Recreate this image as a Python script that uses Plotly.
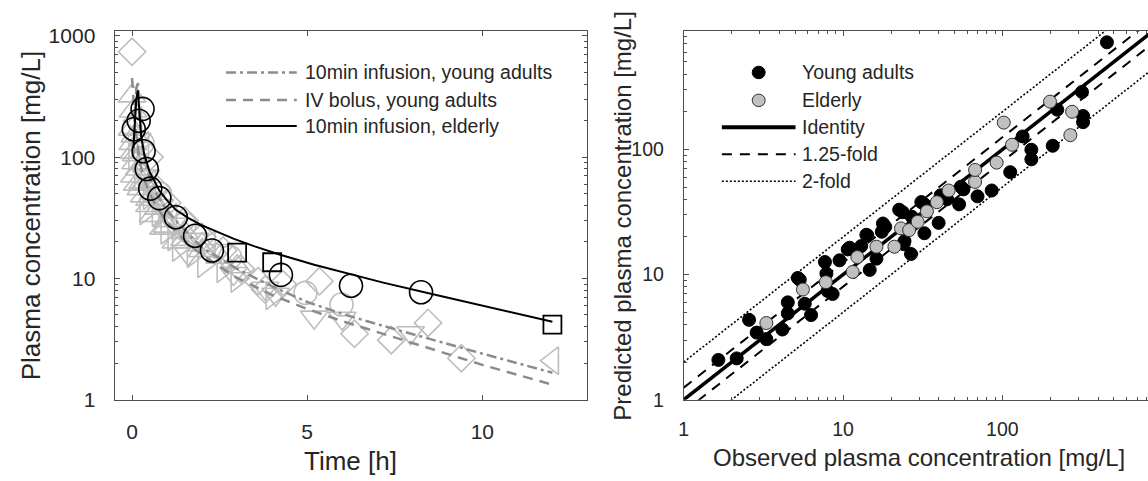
import plotly.graph_objects as go

W, H = 1148, 481
FONT = "Liberation Sans, Arial, sans-serif"
TXT = "#262626"
AX = "#4d4d4d"
GRAY_MK = "#bdbdbd"
GRAY_LN = "#8c8c8c"

# ---------------- left panel: concentration-time ----------------
# model curves
t_inf_young = [0.03, 0.08, 0.12, 0.167, 0.22, 0.3, 0.45, 0.7, 1.0, 1.5, 2.0, 3.0, 4.0, 5.0, 6.0, 7.2, 8.5, 10.0, 12.0]
c_inf_young = [100, 250, 360, 420, 200, 120, 75, 50, 36, 25, 18, 12, 8.6, 6.4, 5.1, 4.04, 3.16, 2.4, 1.67]
t_bolus_young = [0.0, 0.05, 0.1, 0.2, 0.3, 0.5, 0.75, 1.0, 1.5, 2.0, 3.0, 4.0, 5.0, 6.0, 7.2, 8.5, 10.0, 12.0]
c_bolus_young = [450, 260, 170, 100, 72, 50, 37, 29, 20.5, 15.6, 10.1, 7.3, 5.6, 4.45, 3.46, 2.65, 1.94, 1.33]
t_inf_eld = [0.04, 0.08, 0.12, 0.167, 0.2, 0.26, 0.35, 0.5, 0.78, 1.0, 1.25, 1.6, 2.0, 2.5, 2.91, 3.5, 4.23,
             5.2, 6.22, 7.17, 8.59, 10.0, 12.0]
c_inf_eld = [120, 220, 300, 355, 250, 150, 105, 76, 53, 44, 36.8, 31.6, 27.4, 23.6, 21.2, 18.4, 15.7,
             12.96, 10.8, 9.24, 7.4, 6.0, 4.4]

# observed, young adults (grey, one symbol per study)
t_y_diamond = [0.0, 0.5, 0.7, 1.0, 1.5, 2.0, 2.6, 3.1, 3.6, 3.8, 4.3, 5.35, 6.35, 7.4, 8.45, 9.4]
c_y_diamond = [740, 100, 55, 42, 30, 22, 17, 12, 9.5, 8.1, 9.0, 9.5, 3.5, 3.1, 4.3, 2.2]
t_y_tri_up = [0.0, 0.03, 0.08, 0.12, 0.2, 0.3, 0.5, 0.75, 1.0, 1.5, 2.0, 2.5, 3.0,
              0.0, 0.05, 0.1, 0.25, 0.5, 1.0, 1.5, 2.0,
              0.02, 0.07, 0.15, 0.35, 0.6, 0.9, 1.25]
c_y_tri_up = [320, 240, 150, 105, 80, 62, 45, 38, 30, 24, 19, 15, 12.5,
              170, 110, 90, 55, 40, 27, 21, 17,
              130, 70, 60, 48, 33, 26, 20]
t_y_tri_right = [0.08, 0.25, 0.5, 0.75, 1.0, 1.33, 1.75, 2.05, 3.0, 4.0, 0.4, 1.2, 2.6]
c_y_tri_right = [100, 70, 48, 35, 25, 18, 16, 13.2, 10, 7.2, 36, 22, 12]
t_y_tri_down = [0.15, 0.4, 0.8, 1.2, 1.8, 2.5, 3.8, 4.1, 5.2, 6.0, 7.95, 1.6, 2.9]
c_y_tri_down = [140, 70, 40, 28, 21, 17, 8.3, 7.4, 4.8, 4.7, 3.57, 16, 11]
t_y_tri_left = [0.1, 0.3, 0.5, 1.1, 2.2, 12.0]
c_y_tri_left = [200, 125, 60, 32, 19, 2.1]
t_y_circle = [0.3, 0.8, 1.5, 2.8, 4.95, 5.98]
c_y_circle = [130, 50, 28, 15, 7.6, 6.1]

# observed, elderly (black)
t_e_circle = [0.05, 0.19, 0.3, 0.33, 0.42, 0.52, 0.78, 1.25, 1.8, 2.28, 4.25, 6.25, 8.25]
c_e_circle = [170, 200, 250, 112, 80, 55, 46, 32, 22.5, 17, 10.7, 8.7, 7.7]
t_e_square = [3.0, 4.0, 12.0]
c_e_square = [16.3, 13.6, 4.16]

left_legend = ["10min infusion, young adults", "IV bolus, young adults", "10min infusion, elderly"]

# ---------------- right panel: predicted vs observed ----------------
obs_young = [1.65, 2.15, 2.57, 2.87, 3.3, 4.16, 4.5, 4.5, 5.75, 6.3, 5.2, 5.35, 7.7, 9.5, 7.86, 8.0, 8.6,
             10.7, 11, 13, 14.2, 14.7, 16.2, 18.4, 24.3, 26.7, 14, 17.8, 23.7, 32.4, 32.4, 39.8, 53.5,
             54.9, 69.8, 85.7, 112, 134, 152, 152, 207, 316, 321, 321, 221, 453,
             17.5, 22.5, 27, 31, 41, 45, 57, 24]
pred_young = [2.08, 2.14, 4.35, 3.44, 3.05, 3.64, 4.9, 6.0, 5.85, 4.75, 9.4, 9.1, 12.6, 13, 10.2, 7.4, 7.0,
              15.9, 16.4, 16.9, 20.6, 10.9, 13.4, 24.1, 18.5, 14.6, 20.8, 25.6, 31.5, 36.4, 21.4, 25.9, 36.4,
              50.4, 42.2, 47, 65.8, 127, 99.5, 83.4, 107, 288, 185, 165, 208, 718,
              22, 33, 29, 38, 43, 40, 48, 17.5]
obs_elderly = [3.3, 5.6, 7.8, 11.5, 12.3, 16.2, 21, 23.1, 26, 29.4, 33.6, 38.8, 46, 67.4, 67.4, 92, 102, 115, 199, 267, 274]
pred_elderly = [4.1, 7.6, 8.7, 10.5, 13.8, 16.7, 16.7, 23.4, 22.7, 26.4, 32, 37.9, 47, 55, 68.6, 78.5, 164, 109, 241, 130, 200]

ref_x = [1, 1000]
fold_125 = 1.25
fold_2 = 2.0
right_legend = ["Young adults", "Elderly", "Identity", "1.25-fold", "2-fold"]


def px(x):
    return x / W


def py(y):
    return 1 - y / H


fig = go.Figure()


def gray_markers(t, c, sym, size):
    fig.add_trace(go.Scatter(x=t, y=c, mode="markers", xaxis="x", yaxis="y",
                             marker=dict(symbol=sym, size=size, color=GRAY_MK,
                                         line=dict(color=GRAY_MK, width=1.6))))


gray_markers(t_y_diamond, c_y_diamond, "diamond-open", 21)
gray_markers(t_y_tri_up, c_y_tri_up, "triangle-up-open", 24)
gray_markers(t_y_tri_right, c_y_tri_right, "triangle-right-open", 24)
gray_markers(t_y_tri_down, c_y_tri_down, "triangle-down-open", 24)
gray_markers(t_y_tri_left, c_y_tri_left, "triangle-left-open", 24)
gray_markers(t_y_circle, c_y_circle, "circle-open", 23)

fig.add_trace(go.Scatter(x=t_inf_young, y=c_inf_young, mode="lines", xaxis="x", yaxis="y",
                         line=dict(color=GRAY_LN, width=2.5, dash="10px,4px,3px,4px")))
fig.add_trace(go.Scatter(x=t_bolus_young, y=c_bolus_young, mode="lines", xaxis="x", yaxis="y",
                         line=dict(color=GRAY_LN, width=2.5, dash="10px,7px")))
fig.add_trace(go.Scatter(x=t_inf_eld, y=c_inf_eld, mode="lines", xaxis="x", yaxis="y",
                         line=dict(color="black", width=2)))

fig.add_trace(go.Scatter(x=t_e_circle, y=c_e_circle, mode="markers", xaxis="x", yaxis="y",
                         marker=dict(symbol="circle-open", size=23, color="black",
                                     line=dict(color="black", width=1.6))))
fig.add_trace(go.Scatter(x=t_e_square, y=c_e_square, mode="markers", xaxis="x", yaxis="y",
                         marker=dict(symbol="square-open", size=18, color="black",
                                     line=dict(color="black", width=1.8))))

# right panel reference lines
fig.add_trace(go.Scatter(x=ref_x, y=[v * fold_2 for v in ref_x], mode="lines", xaxis="x2", yaxis="y2",
                         line=dict(color="black", width=1.6, dash="2px,2px")))
fig.add_trace(go.Scatter(x=ref_x, y=[v / fold_2 for v in ref_x], mode="lines", xaxis="x2", yaxis="y2",
                         line=dict(color="black", width=1.6, dash="2px,2px")))
fig.add_trace(go.Scatter(x=ref_x, y=[v * fold_125 for v in ref_x], mode="lines", xaxis="x2", yaxis="y2",
                         line=dict(color="black", width=2, dash="10px,8px")))
fig.add_trace(go.Scatter(x=ref_x, y=[v / fold_125 for v in ref_x], mode="lines", xaxis="x2", yaxis="y2",
                         line=dict(color="black", width=2, dash="10px,8px")))
fig.add_trace(go.Scatter(x=ref_x, y=ref_x, mode="lines", xaxis="x2", yaxis="y2",
                         line=dict(color="black", width=3.5)))

fig.add_trace(go.Scatter(x=obs_young, y=pred_young, mode="markers", xaxis="x2", yaxis="y2",
                         marker=dict(symbol="circle", size=13, color="black",
                                     line=dict(color="black", width=1))))
fig.add_trace(go.Scatter(x=obs_elderly, y=pred_elderly, mode="markers", xaxis="x2", yaxis="y2",
                         marker=dict(symbol="circle", size=13, color="#c0c0c0",
                                     line=dict(color="#303030", width=1))))

minor_vals = [m * d for d in (1, 10, 100, 1000) for m in range(2, 10)]

axis_base = dict(showline=True, linecolor=AX, linewidth=1, ticks="inside", ticklen=5, tickwidth=1,
                 tickcolor=AX, showgrid=False, zeroline=False)
left_tickfont = dict(family=FONT, size=21, color=TXT)
right_tickfont = dict(family=FONT, size=19.5, color=TXT)

log_minor = dict(ticks="inside", ticklen=3, tickwidth=1, tickcolor=AX,
                 tickmode="array", tickvals=minor_vals, showgrid=False)

fig.update_layout(
    width=W, height=H, margin=dict(l=0, r=0, t=0, b=0),
    paper_bgcolor="white", plot_bgcolor="white", showlegend=False,
    xaxis=dict(axis_base, domain=[px(110), px(585)], range=[-0.5, 13], tickfont=left_tickfont,
               tickmode="array", tickvals=[0, 5, 10], mirror="ticks", anchor="y",
               ticklabelstandoff=13),
    yaxis=dict(axis_base, domain=[py(408), py(25)], type="log", range=[0, 3.04], tickfont=left_tickfont,
               tickmode="array", tickvals=[1, 10, 100, 1000], ticktext=["1", "10", "100", "1000"],
               minor=log_minor, mirror="ticks", anchor="x", ticklabelstandoff=14),
    xaxis2=dict(axis_base, domain=[px(681.7), 1.0], type="log", range=[0, 2.914], tickfont=right_tickfont,
                tickmode="array", tickvals=[1, 10, 100, 1000], ticktext=["1", "10", "100", "1000"],
                minor=log_minor, mirror="ticks", anchor="y2", ticklabelstandoff=12),
    yaxis2=dict(axis_base, domain=[py(408), py(25)], type="log", range=[0, 2.946], tickfont=right_tickfont,
                tickmode="array", tickvals=[1, 10, 100, 1000], ticktext=["1", "10", "100", "1000"],
                minor=log_minor, mirror=False, anchor="x2", ticklabelstandoff=15),
)

ann = []
shapes = []
left_title_font = dict(family=FONT, size=26, color=TXT)
right_title_font = dict(family=FONT, size=24, color=TXT)
leg_font = dict(family=FONT, size=19.5, color=TXT)

ann.append(dict(text="Time [h]", x=px(347.5), y=py(472), xref="paper", yref="paper",
                showarrow=False, font=left_title_font, xanchor="center", yanchor="middle"))
ann.append(dict(text="Plasma concentration [mg/L]", x=px(27), y=py(216.5), xref="paper", yref="paper",
                showarrow=False, font=left_title_font, textangle=-90, xanchor="center", yanchor="middle"))
ann.append(dict(text="Observed plasma concentration [mg/L]", x=px(918), y=py(468), xref="paper", yref="paper",
                showarrow=False, font=right_title_font, xanchor="center", yanchor="middle"))
ann.append(dict(text="Predicted plasma concentration [mg/L]", x=px(620), y=py(216.5), xref="paper",
                yref="paper", showarrow=False, font=right_title_font, textangle=-90,
                xanchor="center", yanchor="middle"))

# left legend
left_styles = [dict(color=GRAY_LN, width=2.5, dash="10px,4px,3px,4px"),
               dict(color=GRAY_LN, width=2.5, dash="10px,7px"),
               dict(color="black", width=2)]
for i, (lab, sty) in enumerate(zip(left_legend, left_styles)):
    yy = [68, 96.5, 123.5][i]
    shapes.append(dict(type="line", xref="paper", yref="paper", x0=px(222), x1=px(293),
                       y0=py(yy), y1=py(yy), line=sty))
    ann.append(dict(text=lab, x=px(299), y=py(yy), xref="paper", yref="paper", showarrow=False,
                    font=leg_font, xanchor="left", yanchor="middle"))

# right legend
rows = [68, 97, 125, 153, 181]
for i, lab in enumerate(right_legend):
    yy = rows[i]
    if i == 0:
        shapes.append(dict(type="circle", xref="paper", yref="paper", x0=px(757 - 6.5), x1=px(757 + 6.5),
                           y0=py(yy + 6.5), y1=py(yy - 6.5), fillcolor="black", line=dict(color="black", width=1)))
    elif i == 1:
        shapes.append(dict(type="circle", xref="paper", yref="paper", x0=px(757 - 6.5), x1=px(757 + 6.5),
                           y0=py(yy + 6.5), y1=py(yy - 6.5), fillcolor="#c0c0c0",
                           line=dict(color="#303030", width=1)))
    else:
        sty = [dict(color="black", width=4),
               dict(color="black", width=2, dash="10px,8px"),
               dict(color="black", width=1.6, dash="2px,2px")][i - 2]
        shapes.append(dict(type="line", xref="paper", yref="paper", x0=px(720), x1=px(794),
                           y0=py(yy), y1=py(yy), line=sty))
    ann.append(dict(text=lab, x=px(798), y=py(yy), xref="paper", yref="paper", showarrow=False,
                    font=leg_font, xanchor="left", yanchor="middle"))

fig.update_layout(annotations=ann, shapes=shapes)
fig.write_html("out.html")
